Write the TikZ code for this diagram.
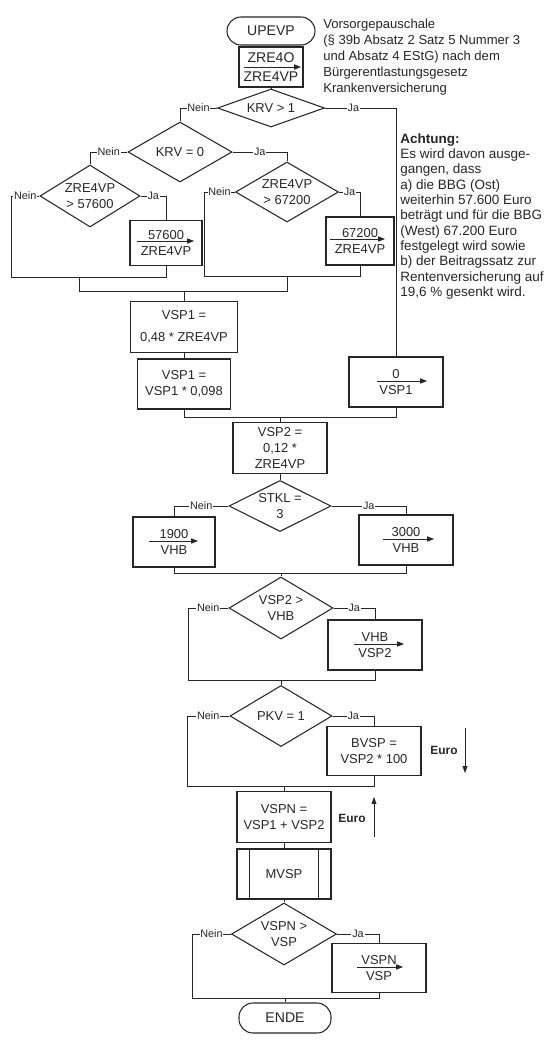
\documentclass[tikz,border=0pt]{standalone}
\usepackage{fontspec}
\setmainfont{Liberation Sans}
\usetikzlibrary{shapes.geometric, arrows.meta, calc}

\definecolor{ScanInk}{HTML}{262626}

\tikzset{
    % Flowchart boxes
    terminal/.style={
        rectangle,
        rounded corners=0.35cm,
        draw=ScanInk,
        line width=0.75pt,
        minimum width=2.2cm,
        minimum height=0.7cm,
        inner sep=0pt,
        text=ScanInk,
        font=\fontsize{10}{12}\selectfont
    },
    process/.style={
        rectangle,
        draw=ScanInk,
        line width=0.75pt,
        minimum width=2.35cm,
        minimum height=1.25cm,
        inner sep=0pt,
        align=center,
        text=ScanInk,
        font=\fontsize{9.2}{11.4}\selectfont
    },
    decision/.style={
        diamond,
        draw=ScanInk,
        line width=0.75pt,
        aspect=1.6,
        inner sep=0pt,
        align=center,
        text=ScanInk,
        font=\fontsize{9.2}{11.4}\selectfont
    },
    flow line/.style={
        draw=ScanInk,
        line width=0.6pt
    },
    branch/.style={
        fill=white,
        inner sep=0.6pt,
        text=ScanInk,
        font=\fontsize{7.7}{9}\selectfont
    },
    assign arrow/.style={
        -{Triangle[length=0.17cm, width=0.13cm]},
        line width=0.5pt,
        ScanInk
    },
    euro arrow/.style={
        -{Triangle[length=0.17cm, width=0.12cm]},
        line width=0.5pt,
        ScanInk
    },
    euro/.style={
        text=ScanInk,
        font=\fontsize{8.5}{10}\selectfont\bfseries
    },
    note/.style={
        anchor=north west,
        align=left,
        inner sep=0pt,
        text=ScanInk,
        font=\fontsize{9.3}{11.3}\selectfont
    }
}

\begin{document}
\begin{tikzpicture}[x=0.025cm, y=-0.025cm]
        \useasboundingbox (0,0) rectangle (551,1046);

        % Start
        \node[terminal] (start) at (271,31) {UPEVP};
        \node[process, minimum width=1.6cm, minimum height=1cm, font=\fontsize{10}{13.5}\selectfont] (zre) at (271,67) {ZRE4O\\ZRE4VP};
        \node[note] (info) at (323,19) {Vorsorgepauschale\\(§ 39b Absatz 2 Satz 5 Nummer 3\\und Absatz 4 EStG) nach dem\\Bürgerentlastungsgesetz\\Krankenversicherung};

        % KRV branches
        \node[decision, aspect=2.5, minimum width=2.675cm, minimum height=0.95cm] (krv1) at (271,108) {KRV > 1};
        \node[decision, minimum width=2.6cm, minimum height=1.5cm] (krv0) at (180,152) {KRV = 0};
        \node[decision, minimum width=2.5cm, minimum height=1.55cm] (zre57) at (90,196) {ZRE4VP\\> 57600};
        \node[decision, minimum width=2.575cm, minimum height=1.5cm] (zre67) at (287,192) {ZRE4VP\\> 67200};
        \node[process, minimum width=1.8cm, minimum height=1.125cm] (bbg57) at (166,243) {57600\\ZRE4VP};
        \node[process, minimum width=1.7cm, minimum height=1.2cm] (bbg67) at (360,241) {67200\\ZRE4VP};
        \node[note, font=\fontsize{9.6}{10.9}\selectfont] (hint) at (400,133) {\textbf{Achtung:}\\Es wird davon ausge-\\gangen, dass\\a) die BBG (Ost)\\weiterhin 57.600 Euro\\beträgt und für die BBG\\(West) 67.200 Euro\\festgelegt wird sowie\\b) der Beitragssatz zur\\Rentenversicherung auf\\19,6 \% gesenkt wird.};

        % VSP1
        \node[process, minimum width=2.69cm, minimum height=1.275cm] (vsp1a) at (184,327) {VSP1 =\\[4pt]0,48 * ZRE4VP};
        \node[process, minimum width=2.34cm] (vsp1b) at (184,384) {VSP1 =\\VSP1 * 0,098};
        \node[process] (vsp1z) at (396,382) {0\\VSP1};

        % VSP2 and VHB
        \node[process, minimum height=1.275cm] (vsp2) at (280,448) {VSP2 =\\0,12 *\\ZRE4VP};
        \node[decision, aspect=2, minimum width=2.55cm, minimum height=1.275cm] (stkl) at (280,506) {STKL =\\3};
        \node[process, minimum width=2.05cm] (vhb19) at (174,542) {1900\\VHB};
        \node[process] (vhb30) at (406,540) {3000\\VHB};
        \node[decision, minimum width=2.6cm, minimum height=1.55cm] (vsp2vhb) at (281,608) {VSP2 >\\VHB};
        \node[process] (vhbset) at (375,645) {VHB\\VSP2};

        % PKV
        \node[decision, minimum width=2.55cm, minimum height=1.525cm] (pkv) at (281,716) {PKV = 1};
        \node[process, minimum height=1.225cm] (bvsp) at (374,751) {BVSP =\\VSP2 * 100};
        \node[euro] (euro1) at (444,750) {Euro};

        % VSPN
        \node[process, minimum height=1.275cm] (vspn) at (284,817) {VSPN =\\VSP1 + VSP2};
        \node[euro] (euro2) at (352,818) {Euro};
        \node[process] (mvsp) at (284,874) {MVSP};
        \node[decision, minimum width=2.625cm, minimum height=1.55cm] (vspnvsp) at (284,934) {VSPN >\\VSP};
        \node[process, minimum height=1.225cm] (vspset) at (379,968) {VSPN\\VSP};
        \node[terminal, minimum width=2.3cm, minimum height=0.75cm] (ende) at (285,1018) {ENDE};

        % Merge points
        \coordinate (n57) at (11,277);
        \coordinate (m57) at (79,277);
        \coordinate (n67) at (204,276);
        \coordinate (m67) at (287,276);
        \coordinate (mkrv) at (184,291);
        \coordinate (mvsp1) at (280,417);
        \coordinate (mstkl) at (281,573);
        \coordinate (nvhb) at (188,680);
        \coordinate (mvhb) at (281,680);
        \coordinate (npkv) at (187,786);
        \coordinate (mpkv) at (284,786);
        \coordinate (nvsp) at (192,998);
        \coordinate (mvsp2) at (285,998);
        \coordinate (eu1a) at (465,728);
        \coordinate (eu1b) at (465,773);
        \coordinate (eu2a) at (374,837);
        \coordinate (eu2b) at (374,797);

        % Connectors
        \draw[flow line] (start) -- (zre);
        \draw[flow line] (zre) -- (krv1);
        \draw[flow line] (krv1.west) -| node[branch, pos=0.25] {Nein} (krv0.north);
        \draw[flow line] (krv1.east) -| node[branch, pos=0.2] {Ja} (vsp1z.north);
        \draw[flow line] (krv0.west) -| node[branch, pos=0.25] {Nein} (zre57.north);
        \draw[flow line] (krv0.east) -| node[branch, pos=0.25] {Ja} (zre67.north);
        \draw[flow line] (zre57.west) -| node[branch, pos=0.25] {Nein} (n57) -- (m57);
        \draw[flow line] (zre57.east) -| node[branch, pos=0.25] {Ja} (bbg57.north);
        \draw[flow line] (bbg57.south) |- (m57);
        \draw[flow line] (zre67.west) -| node[branch, pos=0.25] {Nein} (n67) -- (m67);
        \draw[flow line] (zre67.east) -| node[branch, pos=0.25] {Ja} (bbg67.north);
        \draw[flow line] (bbg67.south) |- (m67);
        \draw[flow line] (m57) |- (mkrv);
        \draw[flow line] (m67) |- (mkrv);
        \draw[flow line] (mkrv) -- (vsp1a.north);
        \draw[flow line] (vsp1a) -- (vsp1b);
        \draw[flow line] (vsp1b.south) |- (mvsp1);
        \draw[flow line] (vsp1z.south) |- (mvsp1);
        \draw[flow line] (mvsp1) -- (vsp2.north);
        \draw[flow line] (vsp2) -- (stkl);
        \draw[flow line] (stkl.west) -| node[branch, pos=0.25] {Nein} (vhb19.north);
        \draw[flow line] (stkl.east) -| node[branch, pos=0.25] {Ja} (vhb30.north);
        \draw[flow line] (vhb19.south) |- (mstkl);
        \draw[flow line] (vhb30.south) |- (mstkl);
        \draw[flow line] (mstkl) -- (vsp2vhb.north);
        \draw[flow line] (vsp2vhb.west) -| node[branch, pos=0.25] {Nein} (nvhb) -- (mvhb);
        \draw[flow line] (vsp2vhb.east) -| node[branch, pos=0.25] {Ja} (vhbset.north);
        \draw[flow line] (vhbset.south) |- (mvhb);
        \draw[flow line] (mvhb) -- (pkv.north);
        \draw[flow line] (pkv.west) -| node[branch, pos=0.25] {Nein} (npkv) -- (mpkv);
        \draw[flow line] (pkv.east) -| node[branch, pos=0.25] {Ja} (bvsp.north);
        \draw[flow line] (bvsp.south) |- (mpkv);
        \draw[flow line] (mpkv) -- (vspn.north);
        \draw[flow line] (vspn) -- (mvsp);
        \draw[flow line] (mvsp) -- (vspnvsp);
        \draw[flow line] (vspnvsp.west) -| node[branch, pos=0.25] {Nein} (nvsp) -- (mvsp2);
        \draw[flow line] (vspnvsp.east) -| node[branch, pos=0.25] {Ja} (vspset.north);
        \draw[flow line] (vspset.south) |- (mvsp2);
        \draw[flow line] (mvsp2) -- (ende.north);

        % Sub-process side bars
        \draw[flow line] ($(mvsp.north west)+(12.7,0)$) -- ($(mvsp.south west)+(12.7,0)$);
        \draw[flow line] ($(mvsp.north east)+(-12.7,0)$) -- ($(mvsp.south east)+(-12.7,0)$);

        % Assignment arrows
        \draw[assign arrow] ($(zre.center)+(-27,0)$) -- ++(57,0);
        \draw[assign arrow] ($(bbg57.center)+(-29,-2)$) -- ++(57,0);
        \draw[assign arrow] ($(bbg67.center)+(-30,-2)$) -- ++(55,0);
        \draw[assign arrow] ($(vsp1z.center)+(-19,-1)$) -- ++(50,0);
        \draw[assign arrow] ($(vhb19.center)+(-25,-1)$) -- ++(49,0);
        \draw[assign arrow] ($(vhb30.center)+(-23,-1)$) -- ++(51,0);
        \draw[assign arrow] ($(vhbset.center)+(-21,-1)$) -- ++(50,0);
        \draw[assign arrow] ($(vspset.center)+(-22,-1)$) -- ++(46,0);

        % Euro conversion
        \draw[euro arrow] (eu1a) -- (eu1b);
        \draw[euro arrow] (eu2a) -- (eu2b);
    \end{tikzpicture}
\end{document}
